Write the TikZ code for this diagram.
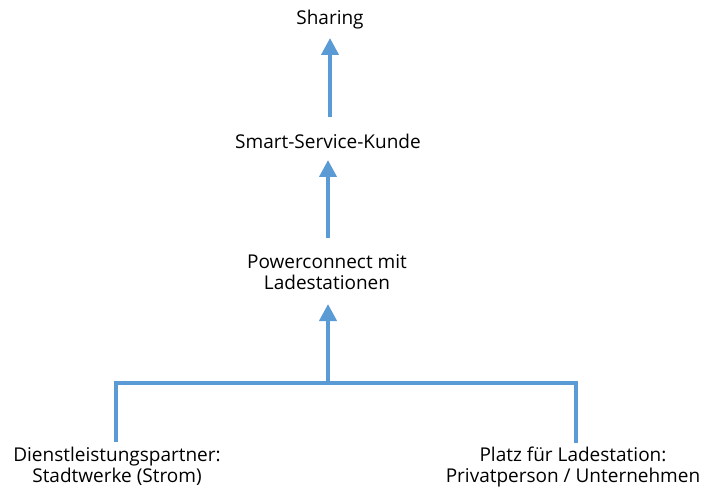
\documentclass[tikz,border=0pt]{standalone}
\usepackage{fontspec}
\setmainfont{Open Sans}
\usetikzlibrary{arrows.meta}
\definecolor{arrowblue}{HTML}{5B9BD5}
\begin{document}
\begin{tikzpicture}[x=1pt,y=-1pt,
  lbl/.style={font=\fontsize{19}{21}\selectfont, align=center, inner sep=0pt, text=black},
  conn/.style={draw=arrowblue, line width=4pt},
  arr/.style={conn, -{Triangle[length=17pt,width=17pt]}}]
\useasboundingbox (0,0) rectangle (704,489);
\node[lbl] (sharing) at (330,20) {Sharing};
\node[lbl] (kunde) at (328,141) {Smart-Service-Kunde};
\node[lbl] (power) at (327,272) {Powerconnect mit\\Ladestationen};
\node[lbl] (dl) at (117,466) {Dienstleistungspartner:\\Stadtwerke (Strom)};
\node[lbl] (platz) at (573,467) {Platz für Ladestation:\\Privatperson / Unternehmen};
\coordinate (a1s) at (330,117);
\coordinate (a1e) at (330,38);
\coordinate (a2s) at (328,238);
\coordinate (a2e) at (328,160);
\coordinate (a3s) at (328,383);
\coordinate (a3e) at (328,304);
\coordinate (bl) at (116,383);
\coordinate (br) at (576,383);
\coordinate (bld) at (116,442);
\coordinate (brd) at (576,443);
\draw[arr] (a1s) -- (a1e);
\draw[arr] (a2s) -- (a2e);
\draw[arr] (a3s) -- (a3e);
\draw[conn] (bld) -- (bl) -- (br) -- (brd);
\end{tikzpicture}
\end{document}
